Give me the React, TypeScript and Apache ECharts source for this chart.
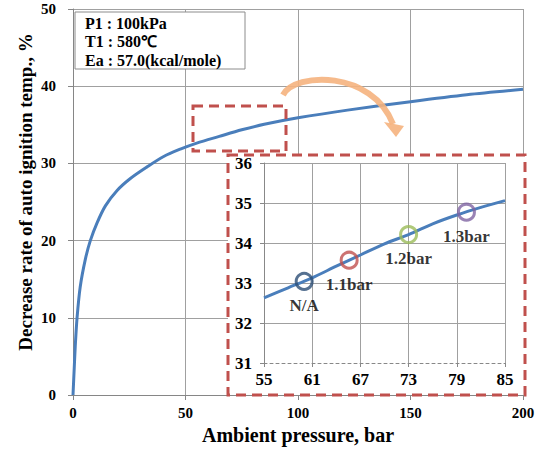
import React, { useEffect, useRef } from "react";
import * as echarts from "echarts";

const mainPressure = [0, 0.55, 1, 1.8, 3.2, 5.5, 7.7, 10.7, 14.4, 19.6, 25.5, 32.9, 40.3, 47.7, 55, 65, 75, 85, 100, 122, 150, 175, 200];
const mainDecrease = [0, 3.5, 6.3, 10, 14, 17.6, 20.0, 22.3, 24.5, 26.5, 28.05, 29.55, 30.9, 31.85, 32.63, 33.5, 34.35, 35.06, 35.9, 36.9, 38.0, 38.9, 39.6];

const insetPressure = [55, 58, 61, 64, 67, 70, 73, 76, 79, 82, 85];
const insetDecrease = [32.63, 32.88, 33.13, 33.42, 33.7, 33.98, 34.21, 34.48, 34.7, 34.89, 35.06];

const markerLabels = ["N/A", "1.1bar", "1.2bar", "1.3bar"];
const markerPressure = [60, 65.6, 73, 80.2];
const markerDecrease = [33.04, 33.57, 34.21, 34.77];
const markerColors = ["#2c4d75", "#c0504d", "#9bbb59", "#8064a2"];

const infoLines = ["P1 : 100kPa", "T1 : 580\u2103", "Ea : 57.0(kcal/mole)"];

const SERIF = '"Times New Roman", "Liberation Serif", serif';
const GRID = "#a0a0a0";
const RED = "#c0504d";
const BLUE = "#4a7ebb";

export default function App() {
  const ref = useRef<HTMLDivElement>(null);
  useEffect(() => {
    if (!ref.current) return;
    const chart = echarts.init(ref.current, undefined, { renderer: "svg" });
    const tickLabel = (size: number, margin: number) => ({
      color: "#000",
      fontFamily: SERIF,
      fontWeight: "bold",
      fontSize: size,
      margin,
    });
    const option: any = {
      animation: false,
      backgroundColor: "#fff",
      grid: [
        { left: 73, right: 22, top: 9, bottom: 56 },
        { left: 264, right: 40, top: 163, bottom: 88 },
      ],
      xAxis: [
        {
          type: "value",
          gridIndex: 0,
          min: 0,
          max: 200,
          interval: 50,
          axisLine: { show: true, lineStyle: { color: "#868686", width: 1 } },
          axisTick: { show: true, length: 5, lineStyle: { color: "#868686" } },
          axisLabel: tickLabel(15, 10),
          splitLine: { show: true, lineStyle: { color: GRID, width: 1 } },
          name: "Ambient pressure, bar",
          nameLocation: "middle",
          nameGap: 28,
          nameTextStyle: { color: "#000", fontFamily: SERIF, fontWeight: "bold", fontSize: 20 },
        },
        {
          type: "value",
          gridIndex: 1,
          min: 55,
          max: 85,
          interval: 6,
          z: 10,
          axisLine: { show: true, lineStyle: { color: "#888", width: 1, type: [3, 3] } },
          axisTick: { show: true, length: 4, lineStyle: { color: "#888" } },
          axisLabel: tickLabel(17, 8),
          splitLine: { show: true, showMinLine: false, lineStyle: { color: GRID, width: 1 } },
        },
      ],
      yAxis: [
        {
          type: "value",
          gridIndex: 0,
          min: 0,
          max: 50,
          interval: 10,
          axisLine: { show: true, lineStyle: { color: "#868686", width: 1 } },
          axisTick: { show: true, length: 5, lineStyle: { color: "#868686" } },
          axisLabel: tickLabel(15, 17),
          splitLine: { show: true, lineStyle: { color: GRID, width: 1 } },
        },
        {
          type: "value",
          gridIndex: 1,
          min: 31,
          max: 36,
          interval: 1,
          z: 10,
          axisLine: { show: true, lineStyle: { color: "#888", width: 1 } },
          axisTick: { show: true, length: 4, lineStyle: { color: "#888" } },
          axisLabel: tickLabel(17, 12),
          splitLine: { show: true, showMinLine: false, lineStyle: { color: GRID, width: 1 } },
        },
      ],
      series: [
        {
          type: "line",
          xAxisIndex: 0,
          yAxisIndex: 0,
          data: mainPressure.map((p, i) => [p, mainDecrease[i]]),
          symbol: "none",
          smooth: 0.3,
          lineStyle: { color: BLUE, width: 3 },
          z: 2,
        },
        {
          type: "line",
          xAxisIndex: 1,
          yAxisIndex: 1,
          data: insetPressure.map((p, i) => [p, insetDecrease[i]]),
          symbol: "none",
          smooth: 0.3,
          lineStyle: { color: BLUE, width: 3 },
          z: 12,
        },
        {
          type: "scatter",
          xAxisIndex: 1,
          yAxisIndex: 1,
          symbol: "circle",
          symbolSize: 16,
          z: 13,
          data: markerLabels.map((name, i) => ({
            name,
            value: [markerPressure[i], markerDecrease[i]],
            itemStyle: { color: "rgba(255,255,255,0)", borderColor: markerColors[i], borderWidth: 3 },
          })),
          label: {
            show: true,
            position: "bottom",
            distance: 6,
            formatter: (p: any) => p.name,
            color: "#000",
            fontFamily: SERIF,
            fontWeight: "bold",
            fontSize: 17,
          },
        },
      ],
      graphic: [
        {
          type: "rect",
          z: 5,
          shape: { x: 228, y: 155, width: 297, height: 240 },
          style: { fill: "#fff", stroke: RED, lineWidth: 3, lineDash: [10, 6] },
        },
        {
          type: "rect",
          z: 20,
          shape: { x: 193, y: 106, width: 93, height: 45 },
          style: { fill: "none", stroke: RED, lineWidth: 3, lineDash: [10, 6] },
        },
        {
          type: "bezierCurve",
          z: 20,
          shape: { x1: 283, y1: 95, cpx1: 295, cpy1: 72, cpx2: 372, cpy2: 70, x2: 393, y2: 124 },
          style: { fill: "none", stroke: "#f5b27e", lineWidth: 6, opacity: 0.9 },
        },
        {
          type: "polygon",
          z: 20,
          shape: { points: [[384, 122], [404, 126], [396, 137]] },
          style: { fill: "#f5b27e", opacity: 0.9 },
        },
        {
          type: "rect",
          z: 20,
          shape: { x: 75, y: 12, width: 170, height: 57 },
          style: { fill: "#fff", stroke: "#8c8c8c", lineWidth: 1 },
        },
        ...infoLines.map((t, i) => ({
          type: "text",
          z: 21,
          x: 85,
          y: 23 + i * 18.5,
          style: {
            text: t,
            fill: "#000",
            font: `bold 16px ${SERIF}`,
            textAlign: "left",
            textVerticalAlign: "middle",
          },
        })),
        {
          type: "text",
          z: 21,
          x: 25,
          y: 192,
          rotation: Math.PI / 2,
          style: {
            text: "Decrease rate of auto ignition temp., %",
            fill: "#000",
            font: `bold 19px ${SERIF}`,
            textAlign: "center",
            textVerticalAlign: "middle",
          },
        },
      ],
    };
    chart.setOption(option);
    return () => chart.dispose();
  }, []);
  return <div ref={ref} style={{ position: "fixed", left: 0, top: 0, width: 545, height: 451 }} />;
}
